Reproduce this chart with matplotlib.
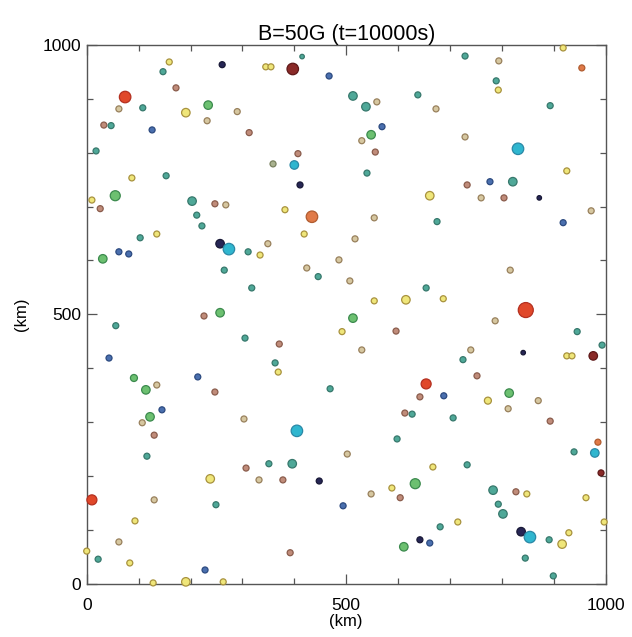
import matplotlib
matplotlib.use("Agg")
import matplotlib.pyplot as plt
from matplotlib.ticker import MultipleLocator

plt.rcParams['font.family'] = ['Liberation Sans', 'DejaVu Sans']

title = "B=50G (t=10000s)"
x_label = "(km)"
y_label = "(km)"
major_ticks = [0, 500, 1000]

# positions of the particles (km)
x_km = [159, 261, 147, 172, 74, 234, 62, 108, 191, 290, 232, 33, 47, 126, 313, 18, 87, 153, 10, 55,
        26, 203, 247, 268, 212, 222, 415, 345, 355, 397, 467, 513, 638, 538, 559, 569, 548, 530, 407, 556,
        359, 400, 540, 411, 661, 382, 434, 554, 729, 794, 918, 954, 789, 793, 673, 893, 729, 831, 925, 733,
        777, 821, 760, 804, 872, 972, 675, 918, 135, 103, 257, 274, 62, 81, 31, 311, 334, 265, 318, 226,
        257, 56, 305, 43, 91, 114, 135, 214, 247, 419, 349, 517, 486, 424, 446, 507, 654, 554, 615, 513,
        492, 596, 371, 530, 363, 369, 469, 654, 642, 816, 687, 846, 787, 945, 993, 740, 725, 841, 925, 935,
        976, 752, 688, 773, 814, 870, 145, 122, 107, 130, 303, 116, 307, 238, 332, 10, 130, 249, 93, 62,
        0, 22, 83, 228, 128, 191, 263, 613, 627, 405, 598, 502, 351, 396, 667, 378, 448, 633, 588, 548,
        604, 494, 642, 611, 661, 392, 812, 706, 893, 985, 939, 979, 991, 733, 783, 827, 848, 793, 802, 962,
        997, 681, 715, 837, 854, 891, 929, 916, 845, 899]
y_km = [968, 963, 950, 920, 903, 888, 881, 883, 874, 876, 859, 851, 850, 842, 837, 803, 753, 757, 712, 720,
        696, 710, 705, 703, 684, 664, 978, 959, 959, 955, 942, 905, 907, 885, 894, 848, 833, 822, 798, 801,
        779, 777, 762, 740, 720, 694, 681, 679, 979, 970, 994, 957, 933, 916, 881, 887, 829, 807, 766, 740,
        746, 746, 716, 716, 716, 692, 672, 670, 649, 642, 631, 621, 616, 612, 603, 616, 610, 582, 549, 497,
        503, 479, 456, 419, 382, 360, 369, 384, 356, 649, 631, 640, 601, 586, 570, 562, 549, 525, 527, 493,
        468, 469, 445, 434, 410, 393, 362, 371, 347, 582, 529, 508, 488, 468, 443, 434, 416, 429, 423, 423,
        423, 386, 349, 340, 354, 340, 323, 310, 299, 276, 306, 237, 215, 195, 193, 156, 156, 147, 117, 78,
        61, 46, 39, 26, 2, 4, 4, 317, 315, 284, 269, 241, 223, 223, 217, 193, 191, 186, 178, 167,
        160, 145, 82, 69, 76, 58, 325, 308, 302, 263, 245, 243, 206, 221, 174, 171, 167, 148, 130, 160,
        115, 106, 115, 97, 87, 82, 95, 74, 48, 15]
# colour class of each particle
kind = ['Y', 'N', 'T', 'B', 'R', 'G', 'Tn', 'T', 'Y', 'Tn', 'Tn', 'B', 'T', 'Bl', 'B', 'T', 'Y', 'T', 'Y', 'G',
        'B', 'T', 'B', 'Tn', 'T', 'T', 'T', 'Y', 'Y', 'DR', 'Bl', 'T', 'T', 'T', 'Tn', 'Bl', 'G', 'Tn', 'B', 'B',
        'O', 'C', 'T', 'N', 'Y', 'Y', 'Or', 'Tn', 'T', 'Tn', 'Y', 'Or', 'T', 'Y', 'Tn', 'T', 'Tn', 'C', 'Y', 'B',
        'Bl', 'T', 'Tn', 'B', 'N', 'Tn', 'T', 'Bl', 'Y', 'T', 'N', 'C', 'Bl', 'Bl', 'G', 'T', 'Y', 'T', 'T', 'B',
        'G', 'T', 'T', 'Bl', 'G', 'G', 'Tn', 'Bl', 'B', 'Y', 'Tn', 'Tn', 'Tn', 'Tn', 'T', 'Tn', 'T', 'Y', 'Y', 'G',
        'Y', 'B', 'B', 'Tn', 'T', 'Y', 'T', 'R', 'B', 'Tn', 'Y', 'R', 'Tn', 'T', 'T', 'Tn', 'T', 'N', 'Y', 'Y',
        'DR', 'B', 'Bl', 'Y', 'G', 'Tn', 'Bl', 'G', 'Tn', 'B', 'Tn', 'T', 'B', 'Y', 'Tn', 'R', 'Tn', 'T', 'Y', 'Tn',
        'Y', 'T', 'Y', 'Bl', 'Y', 'Y', 'Y', 'B', 'T', 'C', 'T', 'Tn', 'T', 'T', 'Y', 'B', 'N', 'G', 'Y', 'Tn',
        'B', 'Bl', 'N', 'G', 'Bl', 'B', 'Tn', 'T', 'B', 'Or', 'T', 'C', 'DR', 'T', 'T', 'B', 'Y', 'T', 'T', 'Y',
        'Y', 'T', 'Y', 'N', 'C', 'T', 'Y', 'Y', 'T', 'T']
# size class of each particle
size_class = [2, 2, 2, 2, 4, 3, 2, 2, 3, 2, 2, 2, 2, 2, 2, 2, 2, 2, 2, 3.5,
              2, 3, 2, 2, 2, 2, 1, 2, 2, 4, 2, 3, 2, 3, 2, 2, 3, 2, 2, 2,
              2, 3, 2, 2, 3, 2, 4, 2, 2, 2, 2, 2, 2, 2, 2, 2, 2, 4, 2, 2,
              2, 3, 2, 2, 1, 2, 2, 2, 2, 2, 3, 4, 2, 2, 3, 2, 2, 2, 2, 2,
              3, 2, 2, 2, 2.5, 3, 2, 2, 2, 2, 2, 2, 2, 2, 2, 2, 2, 2, 3, 3,
              2, 2, 2, 2, 2, 2, 2, 3.5, 2, 2, 2, 5, 2, 2, 2, 2, 2, 1, 2, 2,
              3, 2, 2, 2.5, 3, 2, 2, 3, 2, 2, 2, 2, 2, 3, 2, 3.5, 2, 2, 2, 2,
              2, 2, 2, 2, 2, 3, 2, 2, 2, 4, 2, 2, 2, 3, 2, 2, 2, 3.5, 2, 2,
              2, 2, 2, 3, 2, 2, 2, 2, 2, 2, 2, 3, 2, 2, 3, 2, 2, 2, 3, 2,
              2, 2, 2, 3, 4, 2, 2, 3, 2, 2]

# styles
face = {'Y': '#efe67a', 'Tn': '#d6c7a0', 'B': '#c08c7a', 'T': '#4fa898', 'G': '#6cc070',
        'C': '#2fb6cf', 'Bl': '#4a6fae', 'N': '#262655', 'R': '#e0482a', 'DR': '#8a2a28',
        'Or': '#e07a48', 'O': '#a9b28f'}
edge = {'Y': '#a8923e', 'Tn': '#98805c', 'B': '#8a5c4c', 'T': '#37786c', 'G': '#3c8a4e',
        'C': '#2a88a6', 'Bl': '#2c4a80', 'N': '#181836', 'R': '#b43020', 'DR': '#5e1818',
        'Or': '#b05c30', 'O': '#78805e'}
diam_px = {1: 4.5, 2: 6.0, 2.5: 7.0, 3: 8.5, 3.5: 10.0, 4: 11.5, 5: 15.0}

fig = plt.figure(figsize=(6.32, 6.37), dpi=100)
ax = fig.add_axes([0.1372, 0.0832, 0.8212, 0.8466])

sizes = [(diam_px[c] * 0.72) ** 2 for c in size_class]
fcs = [face[k] for k in kind]
ecs = [edge[k] for k in kind]
ax.scatter(x_km, y_km, s=sizes, c=fcs, edgecolors=ecs, linewidths=0.9, zorder=3, clip_on=False)

ax.set_xlim(0, 1000)
ax.set_ylim(0, 1000)
ax.xaxis.set_major_locator(plt.FixedLocator(major_ticks))
ax.yaxis.set_major_locator(plt.FixedLocator(major_ticks))
ax.xaxis.set_minor_locator(MultipleLocator(100))
ax.yaxis.set_minor_locator(MultipleLocator(100))
ax.tick_params(which='both', direction='in', top=True, right=True, color='#555555', width=0.9)
ax.tick_params(which='major', length=7)
ax.tick_params(which='minor', length=4)
ax.tick_params(axis='x', which='major', labelsize=12.5, pad=10)
ax.tick_params(axis='y', which='major', labelsize=12.5, pad=4)
for sp in ax.spines.values():
    sp.set_color('#555555')
    sp.set_linewidth(1.0)

ax.set_title(title, fontsize=15.5, pad=2)
ax.set_xlabel(x_label, fontsize=12, labelpad=1)
ax.set_ylabel(y_label, fontsize=12, labelpad=10)

fig.savefig("out.png", dpi=100)
